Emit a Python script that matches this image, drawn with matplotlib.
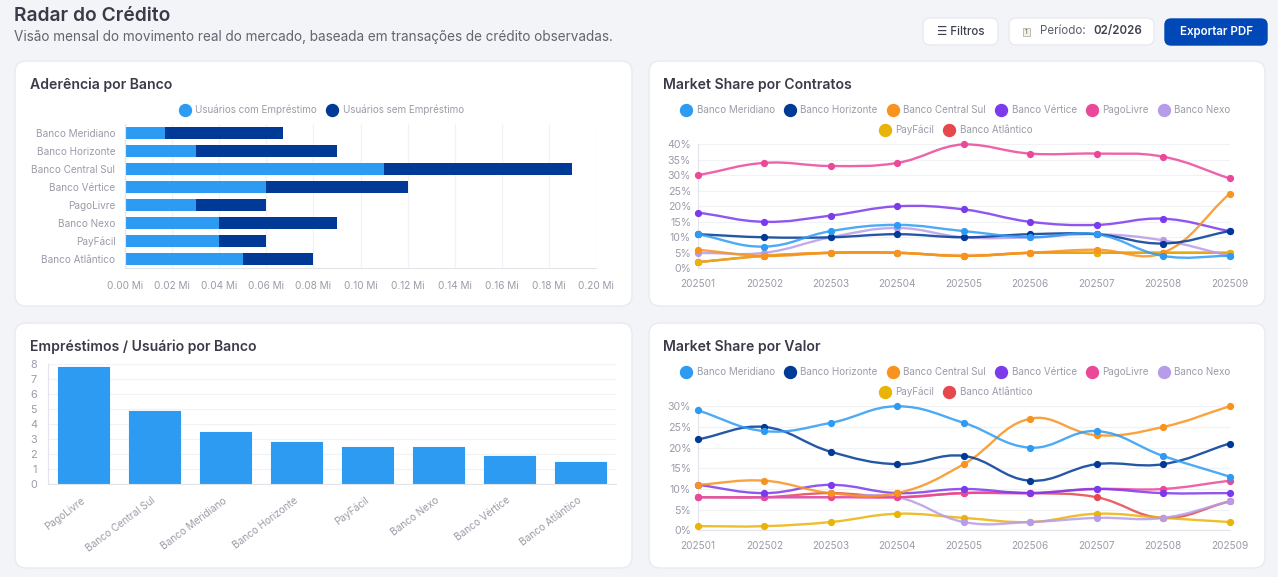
import matplotlib
matplotlib.use('Agg')
import matplotlib.pyplot as plt
from matplotlib.lines import Line2D
from matplotlib.patches import FancyBboxPatch, PathPatch, Rectangle
from matplotlib.path import Path
import numpy as np

plt.rcParams['font.family'] = ['Inter', 'DejaVu Sans']

# Data
months = ['202501', '202502', '202503', '202504', '202505', '202506', '202507', '202508', '202509']
banks = ['Banco Meridiano', 'Banco Horizonte', 'Banco Central Sul', 'Banco Vértice',
         'PagoLivre', 'Banco Nexo', 'PayFácil', 'Banco Atlântico']
with_loan = [0.017, 0.03, 0.11, 0.06, 0.03, 0.04, 0.04, 0.05]
without_loan = [0.05, 0.06, 0.08, 0.06, 0.03, 0.05, 0.02, 0.03]

ratio_banks = ['PagoLivre', 'Banco Central Sul', 'Banco Meridiano', 'Banco Horizonte',
               'PayFácil', 'Banco Nexo', 'Banco Vértice', 'Banco Atlântico']
ratio_values = [7.8, 4.9, 3.5, 2.8, 2.5, 2.5, 1.9, 1.5]

contracts_meridiano = [11, 7, 12, 14, 12, 10, 11, 4, 4]
contracts_horizonte = [11, 10, 10, 11, 10, 11, 11, 8, 12]
contracts_central = [6, 4, 5, 5, 4, 5, 6, 5, 24]
contracts_vertice = [18, 15, 17, 20, 19, 15, 14, 16, 12]
contracts_pago = [30, 34, 33, 34, 40, 37, 37, 36, 29]
contracts_nexo = [5, 5, 10, 13, 10, 10, 11, 9, 4]
contracts_payfacil = [2, 4, 5, 5, 4, 5, 5, 5, 5]
contracts_atlantico = [2, 4, 5, 5, 4, 5, 5, 5, 5]

value_meridiano = [29, 24, 26, 30, 26, 20, 24, 18, 13]
value_horizonte = [22, 25, 19, 16, 18, 12, 16, 16, 21]
value_central = [11, 12, 9, 9, 16, 27, 23, 25, 30]
value_vertice = [11, 9, 11, 9, 10, 9, 10, 9, 9]
value_pago = [8, 8, 8, 8, 9, 9, 10, 10, 12]
value_nexo = [8, 8, 8, 8, 2, 2, 3, 3, 7]
value_payfacil = [1, 1, 2, 4, 3, 2, 4, 3, 2]
value_atlantico = [8, 8, 9, 8, 9, 9, 8, 3, 7]

contracts = [contracts_meridiano, contracts_horizonte, contracts_central, contracts_vertice,
             contracts_pago, contracts_nexo, contracts_payfacil, contracts_atlantico]
values = [value_meridiano, value_horizonte, value_central, value_vertice,
          value_pago, value_nexo, value_payfacil, value_atlantico]

# Colors
BLUE = '#2e9bf3'
NAVY = '#003a96'
colors = [BLUE, NAVY, '#f7931e', '#7c3aed', '#ec4899', '#b79ce8', '#eab308', '#e5484d']
BG = '#f3f4f7'
TITLE = '#3a3a4a'
TICK = '#9a9ca8'
GRID = '#f1f2f5'
AXIS = '#e3e4ea'
W, H = 1278, 577

fig = plt.figure(figsize=(W / 100, H / 100), dpi=100, facecolor=BG)

# Page layer, in pixels
page = fig.add_axes([0, 0, 1, 1])
page.set_xlim(0, W)
page.set_ylim(H, 0)
page.axis('off')


def box(x0, y0, x1, y1, r, face, edge):
    page.add_patch(FancyBboxPatch((x0 + r, y0 + r), x1 - x0 - 2 * r, y1 - y0 - 2 * r,
                                  boxstyle='round,pad=%d,rounding_size=%d' % (r, r),
                                  fc=face, ec=edge, lw=1))


def make_axes(x0, y0, x1, y1):
    ax = fig.add_axes([x0 / W, 1 - y1 / H, (x1 - x0) / W, (y1 - y0) / H])
    ax.patch.set_alpha(0)
    for side in ['top', 'right']:
        ax.spines[side].set_visible(False)
    for side in ['left', 'bottom']:
        ax.spines[side].set_color(AXIS)
        ax.spines[side].set_linewidth(0.8)
    ax.tick_params(length=0, labelsize=7.2, labelcolor=TICK)
    ax.set_axisbelow(True)
    return ax


def make_legend(ax, labels, cols, anchor_px):
    handles = [Line2D([], [], color=c, marker='o', ls='none', ms=8.6) for c in cols]
    leg = ax.legend(handles, labels, ncols=len(labels), loc='center', frameon=False,
                    bbox_to_anchor=(anchor_px[0] / W, 1 - anchor_px[1] / H),
                    bbox_transform=fig.transFigure, fontsize=7.1, labelcolor=TICK,
                    handlelength=1.0, handletextpad=0.55, columnspacing=1.05,
                    borderpad=0, borderaxespad=0)
    # keep it as an artist so the next legend doesn't replace it, but draw it only once
    ax.add_artist(leg)
    ax.legend_ = None


def spline(x, y, sx, sy, ymin, ymax, t=0.4):
    # bezier control points worked out in pixel space, same idea as chart.js tension
    px = np.array(x) * sx
    py = np.array(y, dtype=float) * sy
    n = len(px)
    verts = [(x[0], y[0])]
    codes = [Path.MOVETO]
    out = []
    inc = []
    for i in range(n):
        a = max(i - 1, 0)
        b = min(i + 1, n - 1)
        d0 = np.hypot(px[i] - px[a], py[i] - py[a])
        d1 = np.hypot(px[b] - px[i], py[b] - py[i])
        s0 = d0 / (d0 + d1)
        s1 = d1 / (d0 + d1)
        inc.append((px[i] - t * s0 * (px[b] - px[a]), py[i] - t * s0 * (py[b] - py[a])))
        out.append((px[i] + t * s1 * (px[b] - px[a]), py[i] + t * s1 * (py[b] - py[a])))
    for i in range(n - 1):
        verts.append((out[i][0] / sx, np.clip(out[i][1] / sy, ymin, ymax)))
        verts.append((inc[i + 1][0] / sx, np.clip(inc[i + 1][1] / sy, ymin, ymax)))
        verts.append((x[i + 1], y[i + 1]))
        codes += [Path.CURVE4] * 3
    return Path(verts, codes)


def line_chart(x0, y0, x1, y1, series, ymax, legend_y):
    ax = make_axes(x0, y0, x1, y1)
    xs = list(range(len(months)))
    sx = (x1 - x0) / (len(months) - 1)
    sy = (y1 - y0) / ymax
    for i, vals in enumerate(series):
        z = 10 - i
        ax.add_patch(PathPatch(spline(xs, vals, sx, sy, 0, ymax), fc='none', ec=colors[i],
                               lw=1.7, alpha=0.85, zorder=z, clip_on=False))
        ax.plot(xs, vals, 'o', color=colors[i], ms=4.2, zorder=z, clip_on=False)
    ax.set_xlim(0, len(months) - 1)
    ax.set_ylim(0, ymax)
    ax.set_xticks(xs)
    ax.set_xticklabels(months)
    ax.set_yticks(range(0, ymax + 1, 5))
    ax.set_yticklabels(['%d%%' % v for v in range(0, ymax + 1, 5)], fontsize=7.6)
    ax.tick_params(axis='x', pad=8)
    ax.tick_params(axis='y', pad=5)
    ax.grid(axis='y', color=GRID, lw=0.9)
    make_legend(ax, banks[:6], colors[:6], (956, legend_y))
    make_legend(ax, banks[6:], colors[6:], (956, legend_y + 20))


# Header
page.text(14, 16, 'Radar do Crédito', fontsize=13.8, fontweight='semibold', color=TITLE, va='center')
page.text(14, 37, 'Visão mensal do movimento real do mercado, baseada em transações de crédito observadas.',
          fontsize=9.76, color='#62646f', va='center')

box(923, 18, 998, 45, 7, 'white', '#e8eaf0')
page.text(960.5, 32, '☰ Filtros', fontsize=8.3, fontweight='medium', color='#3f414d', ha='center', va='center')
box(1009, 18, 1154, 45, 7, 'white', '#e8eaf0')
page.add_patch(Rectangle((1023, 28), 7, 8, fc='#f5f1e6', ec='#bdbdb5', lw=0.7))
page.text(1026.5, 32.3, '1', fontsize=5, color='#555555', ha='center', va='center')
page.text(1040, 31, 'Período:', fontsize=8.3, color='#5b5d69', va='center')
page.text(1093, 31, '02/2026', fontsize=8.3, fontweight='semibold', color='#3f414d', va='center')
box(1165, 19, 1267, 45, 6, '#0047b8', '#0047b8')
page.text(1216, 32, 'Exportar PDF', fontsize=8.3, fontweight='semibold', color='white', ha='center', va='center')

# Cards
for cx0, cy0, cx1, cy1, tx, title in [(15, 61, 632, 306, 30, 'Aderência por Banco'),
                                      (649, 61, 1265, 306, 663, 'Market Share por Contratos'),
                                      (15, 323, 632, 568, 30, 'Empréstimos / Usuário por Banco'),
                                      (649, 323, 1265, 568, 663, 'Market Share por Valor')]:
    box(cx0, cy0, cx1, cy1, 11, 'white', '#e8eaf0')
    page.text(tx, cy0 + 24, title, fontsize=10.1, fontweight='semibold', color=TITLE, va='center')

# Stacked bars
ax = make_axes(125, 124, 596, 268)
ypos = np.arange(len(banks))
ax.barh(ypos, with_loan, height=0.7, color=BLUE, label='Usuários com Empréstimo')
ax.barh(ypos, without_loan, left=with_loan, height=0.7, color=NAVY, label='Usuários sem Empréstimo')
ax.set_xlim(0, 0.20)
ax.set_ylim(len(banks) - 0.5, -0.5)
ax.set_yticks(ypos)
ax.set_yticklabels(banks)
xt = np.arange(0, 11) * 0.02
ax.set_xticks(xt)
ax.set_xticklabels(['%.2f Mi' % v for v in xt])
ax.tick_params(axis='x', pad=9)
ax.tick_params(axis='y', pad=7)
ax.grid(axis='x', color=GRID, lw=0.9)
make_legend(ax, ['Usuários com Empréstimo', 'Usuários sem Empréstimo'], [BLUE, NAVY], (322, 110))

# Ratio bars
ax = make_axes(48, 364, 616, 484)
xpos = np.arange(len(ratio_banks))
ax.bar(xpos, ratio_values, width=0.72, color=BLUE, ec=BLUE, lw=0.8, joinstyle='round')
ax.set_xlim(-0.5, len(ratio_banks) - 0.5)
ax.set_ylim(0, 8)
ax.set_yticks(range(9))
ax.set_yticklabels(range(9), fontsize=7.8)
ax.set_xticks(xpos)
ax.set_xticklabels(ratio_banks, rotation=37, ha='right', va='center', rotation_mode='anchor')
ax.tick_params(axis='x', pad=11)
ax.tick_params(axis='y', pad=8)
ax.grid(axis='y', color=GRID, lw=0.9)

# Market share lines
line_chart(698, 144.3, 1229.5, 268.3, contracts, 40, 110)
line_chart(698, 406.3, 1229.5, 530.3, values, 30, 372)

fig.savefig('out.png', dpi=100, facecolor=BG)
